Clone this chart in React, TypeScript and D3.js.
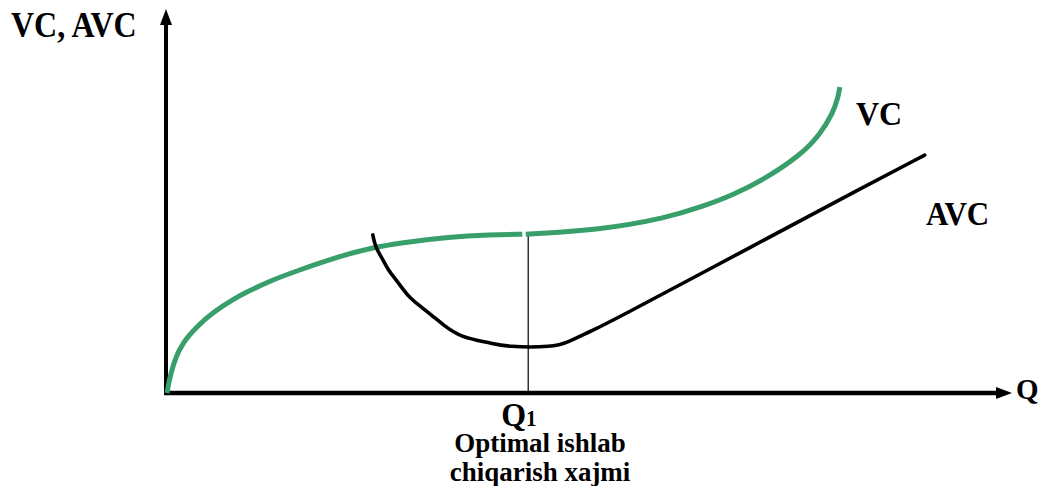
import React, { useEffect, useRef } from "react";
import * as d3 from "d3";

// VC curve (Q, cost), two pieces split just before Q1
const vcLeft: [number, number][] = [
  [0, 0], [0.01, 0.13], [0.04, 0.47], [0.1, 0.92], [0.19, 1.34], [0.36, 1.76],
  [0.55, 2.13], [0.79, 2.47], [0.95, 2.66], [1.23, 2.95], [1.5, 3.18], [2.1, 3.63],
  [2.44, 3.82], [2.77, 3.95], [3.37, 4.11], [3.85, 4.16], [4.23, 4.18]
];
const vcRight: [number, number][] = [
  [4.27, 4.18], [5.15, 4.29], [5.95, 4.61], [6.35, 4.89], [6.74, 5.21], [7.14, 5.66],
  [7.54, 6.26], [7.77, 6.79], [7.93, 7.37], [7.99, 7.79], [8.01, 8.05]
];
// AVC: hand-drawn U going into a straight line
const avcPoints: [number, number][] = [
  [2.45, 4.16], [2.48, 3.84], [2.56, 3.55], [2.65, 3.18], [2.71, 3.03], [2.8, 2.76],
  [2.89, 2.5], [3.04, 2.24], [3.15, 2.05], [3.29, 1.79], [3.49, 1.47], [3.85, 1.32],
  [4.05, 1.21], [4.6, 1.21], [4.76, 1.32], [5.07, 1.66], [5.21, 1.79], [7.06, 3.97],
  [8.25, 5.37], [9.02, 6.26]
];
const q1 = 4.3;
const q1Cost = 4.18;

const axisLabelY = "VC, AVC";
const axisLabelX = "Q";
const curveLabels = ["VC", "AVC"];
const q1Label = ["Q", "1"];
const q1Caption = ["Optimal ishlab", "chiqarish xajmi"];

export default function App() {
  const ref = useRef<SVGSVGElement>(null);

  useEffect(() => {
    if (!ref.current) return;
    const svg = d3.select(ref.current);
    svg.selectAll("*").remove();

    const x = d3.scaleLinear().domain([0, 10]).range([167, 1007]);
    const y = d3.scaleLinear().domain([0, 10]).range([393, 13]);
    const green = "#389f6b";
    const font = "'Liberation Serif', 'Times New Roman', serif";

    const smooth = d3.line<[number, number]>()
      .x(d => x(d[0]))
      .y(d => y(d[1]))
      .curve(d3.curveBasis);

    // axes
    const x0 = x(0) - 1;
    const y0 = y(0);
    svg.append("line")
      .attr("x1", x0).attr("y1", y0 + 2)
      .attr("x2", x0).attr("y2", 22)
      .attr("stroke", "#000").attr("stroke-width", 4);
    svg.append("path")
      .attr("d", `M${x0},9 L${x0 - 6},25 L${x0 + 6},25 Z`)
      .attr("fill", "#000");
    svg.append("line")
      .attr("x1", x0 - 2).attr("y1", y0)
      .attr("x2", 998).attr("y2", y0)
      .attr("stroke", "#000").attr("stroke-width", 4.5);
    svg.append("path")
      .attr("d", `M1012,${y0} L996,${y0 - 6} L996,${y0 + 6} Z`)
      .attr("fill", "#000");

    // Q1 vertical
    svg.append("line")
      .attr("x1", x(q1)).attr("y1", y(q1Cost))
      .attr("x2", x(q1)).attr("y2", y0)
      .attr("stroke", "#000").attr("stroke-width", 1.2);

    // VC
    [vcLeft, vcRight].forEach(seg => {
      svg.append("path")
        .datum(seg)
        .attr("d", smooth)
        .attr("fill", "none")
        .attr("stroke", green)
        .attr("stroke-width", 5);
    });

    // AVC
    svg.append("path")
      .datum(avcPoints)
      .attr("d", smooth)
      .attr("fill", "none")
      .attr("stroke", "#000")
      .attr("stroke-width", 3.6)
      .attr("stroke-linejoin", "round")
      .attr("stroke-linecap", "round");

    const txt = (s: string, tx: number, ty: number, size: number, anchor = "start", sy = 1) =>
      svg.append("text")
        .attr("transform", `translate(${tx},${ty}) scale(1,${sy})`)
        .attr("font-family", font)
        .attr("font-weight", "bold")
        .attr("font-size", size)
        .attr("text-anchor", anchor)
        .attr("fill", "#000")
        .text(s);

    txt(axisLabelY, 11, 37, 32, "start", 1.1);
    txt(axisLabelX, 1016, 399, 29, "start", 1.05);
    txt(curveLabels[0], 856, 125, 32, "start", 1.05);
    txt(curveLabels[1], 926, 225, 31, "start", 1.08);

    const q = txt(q1Label[0], x(q1) - 27, 426, 32, "start", 1.08);
    q.append("tspan").attr("font-size", 21).text(q1Label[1]);
    txt(q1Caption[0], 540, 452, 27, "middle", 1.05);
    txt(q1Caption[1], 540, 481, 27, "middle", 1.05);
  }, []);

  return (
    <svg
      ref={ref}
      width={1040}
      height={486}
      style={{ position: "absolute", left: 0, top: 0, background: "#fff" }}
    />
  );
}
